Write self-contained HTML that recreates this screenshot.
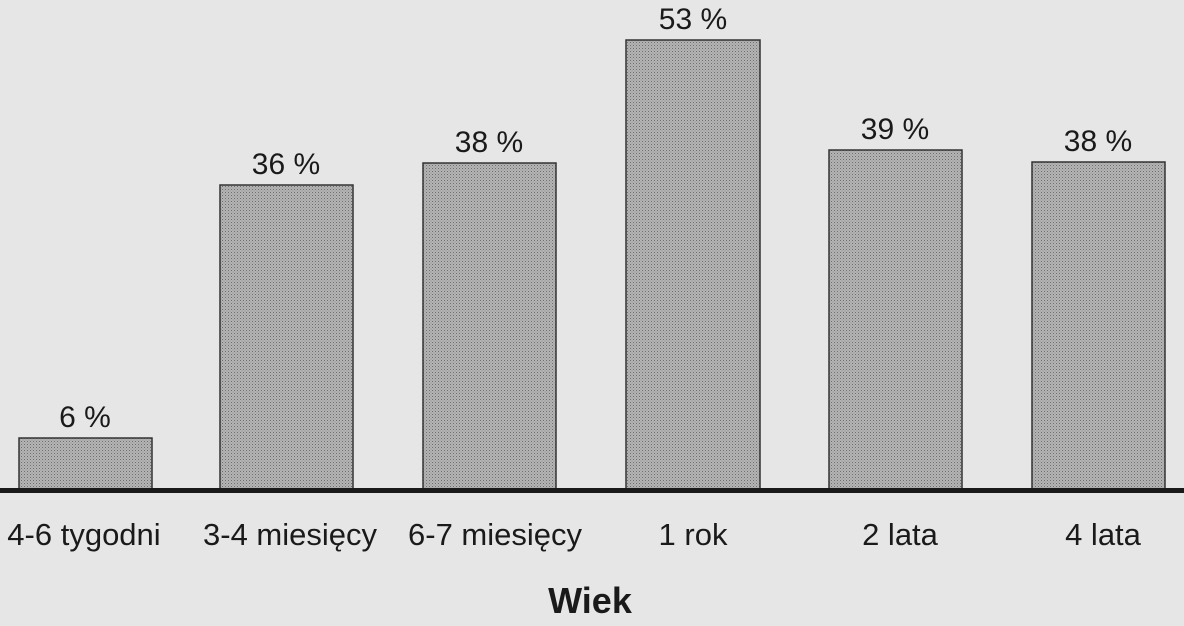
<!DOCTYPE html>
<html><head><meta charset="utf-8"><style>
html,body{margin:0;padding:0;background:#e6e6e6;}
svg{display:block}
</style></head><body>
<svg width="1184" height="626" xmlns="http://www.w3.org/2000/svg">
<defs>
<pattern id="dots" width="3" height="3" patternUnits="userSpaceOnUse">
<rect width="3" height="3" fill="#b4b4b4"/>
<rect width="1" height="1" fill="#6e6e6e"/>
<rect x="1.5" y="1.5" width="1" height="1" fill="#8a8a8a"/>
</pattern>
</defs>
<rect width="1184" height="626" fill="#e6e6e6"/>
<g stroke="#333" stroke-width="1.5" fill="url(#dots)">
<rect x="19" y="438" width="133" height="52"/>
<rect x="220" y="185" width="133" height="305"/>
<rect x="423" y="163" width="133" height="327"/>
<rect x="626" y="40" width="134" height="450"/>
<rect x="829" y="150" width="133" height="340"/>
<rect x="1032" y="162" width="133" height="328"/>
</g>
<rect x="0" y="488" width="1184" height="5" fill="#1a1a1a"/>
<g font-family="Liberation Sans, Arial, sans-serif" font-size="30" fill="#1a1a1a" text-anchor="middle">
<text x="85" y="427">6 %</text>
<text x="286" y="174">36 %</text>
<text x="489" y="152">38 %</text>
<text x="693" y="29">53 %</text>
<text x="895" y="139">39 %</text>
<text x="1098" y="151">38 %</text>
<g font-size="31">
<text x="84" y="545">4-6 tygodni</text>
<text x="290" y="545">3-4 miesięcy</text>
<text x="495" y="545">6-7 miesięcy</text>
<text x="693" y="545">1 rok</text>
<text x="900" y="545">2 lata</text>
<text x="1103" y="545">4 lata</text>
</g>
<text x="590" y="613" font-weight="bold" font-size="36">Wiek</text>
</g>
</svg>
</body></html>
